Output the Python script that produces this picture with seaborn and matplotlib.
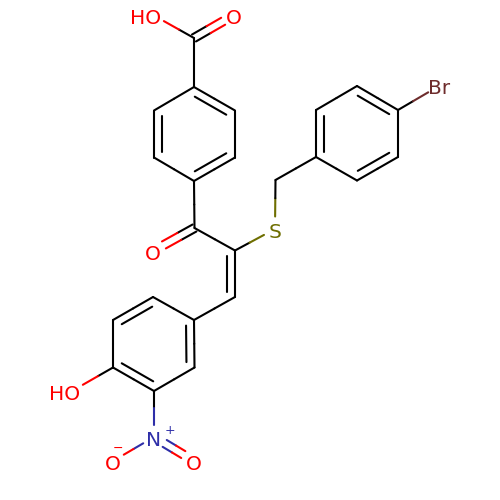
import numpy as np
import pandas as pd
import matplotlib
matplotlib.use("Agg")
import matplotlib.pyplot as plt
import seaborn as sns

# atoms: name, x, y (pixel scale of the drawing)
atom_names = ["C1","O1","O2","A1","A2","A3","A4","A5","A6","K","OK","Ca","S","CH2",
              "C1r","C2r","C3r","C4r","C5r","C6r","Br","Cb",
              "B1","B2","B3","B4","B5","B6","OH","N","Om","On"]
atom_x = [194,234,153,194,235,235,194,154,154,194.5,153,235,275,275.5,
          316,316,357,398,398,357,439,235,
          194,153,113,113,154,194.5,72,154,113,194]
atom_y = [38,15,15,87,110.5,157.5,181,157.5,110.5,228,251,250.5,229,180,
          157,110,86,110,157,180.5,86,297,
          320,297,320,367.5,391,367.5,391,437,461,461]
atom_colors = {"O1":"#FF0000","O2":"#FF0000","OK":"#FF0000","OH":"#FF0000","Om":"#FF0000","On":"#FF0000",
               "S":"#6E6E00","Br":"#6E2C2C","N":"#2E2EA8"}
bond_a = ["C1","C1","C1","A1","A2","A3","A4","A5","A6","A4","K","K","Ca","S","CH2",
          "C1r","C2r","C3r","C4r","C5r","C6r","C4r","Ca","Cb",
          "B1","B2","B3","B4","B5","B6","B4","B5","N","N"]
bond_b = ["O1","O2","A1","A2","A3","A4","A5","A6","A1","K","OK","Ca","S","CH2","C1r",
          "C2r","C3r","C4r","C5r","C6r","C1r","Br","Cb","B1",
          "B2","B3","B4","B5","B6","B1","OH","N","Om","On"]
bond_order = [2,1,1,2,1,2,1,2,1,1,2,1,1,1,1,
              2,1,2,1,2,1,1,2,1,
              1,2,1,2,1,2,1,1,1,2]
# atom lying on the inner side of a double bond (None: centred pair)
bond_ref = [None,None,None,"A5",None,"A1",None,"A2",None,None,None,None,None,None,None,
            "C4r",None,"C6r",None,"C2r",None,None,"K",None,
            None,"B5",None,"B1",None,"B3",None,None,None,None]

label_text = {"O1":"O","O2":"HO","OK":"O","S":"S","Br":"Br","OH":"HO","N":"N","Om":"O","On":"O"}
charge_text = ["\u2212", "+"]
charge_x = [118, 169.5]
charge_y = [447, 429]
charge_color = ["#FF0000", "#2E2EA8"]

pos = {n: np.array([x, y], float) for n, x, y in zip(atom_names, atom_x, atom_y)}
BLACK = "#000000"
GAP = 12.5
OFF = 8.0
SHRINK = 5.5

sns.set_theme(style="white")
plt.rcParams["font.family"] = ["DejaVu Sans"]
fig = plt.figure(figsize=(5, 5), dpi=100, facecolor="white")
ax = fig.add_axes([0, 0, 1, 1])


def seg(p, q, color):
    df = pd.DataFrame({"x": [p[0], q[0]], "y": [p[1], q[1]]})
    sns.lineplot(data=df, x="x", y="y", color=color, linewidth=1.5, sort=False,
                 estimator=None, ax=ax, legend=False, solid_capstyle="round")


def bond(a, b, p, q):
    """Draw p-q clipped at labelled ends, colour changing at the visible midpoint."""
    u = (q - p) / np.linalg.norm(q - p)
    if a in label_text:
        p = p + u * GAP
    if b in label_text:
        q = q - u * GAP
    m = (p + q) / 2
    seg(p, m, atom_colors.get(a, BLACK))
    seg(m, q, atom_colors.get(b, BLACK))


for a, b, order, ref in zip(bond_a, bond_b, bond_order, bond_ref):
    p, q = pos[a], pos[b]
    if order == 1:
        bond(a, b, p, q)
        continue
    u = (q - p) / np.linalg.norm(q - p)
    n = np.array([-u[1], u[0]])
    if ref is None:
        bond(a, b, p + n * OFF / 2, q + n * OFF / 2)
        bond(a, b, p - n * OFF / 2, q - n * OFF / 2)
    else:
        bond(a, b, p, q)
        if np.dot(pos[ref] - p, n) < 0:
            n = -n
        seg(p + n * OFF + u * SHRINK, q + n * OFF - u * SHRINK, BLACK)

for name, text in label_text.items():
    x, y = pos[name]
    ha = "center"
    if text == "HO":
        x, ha = x + 8, "right"
    ax.text(x, y + 1, text, color=atom_colors[name], fontsize=14.5, ha=ha, va="center_baseline")

for t, x, y, c in zip(charge_text, charge_x, charge_y, charge_color):
    ax.text(x, y, t, color=c, fontsize=9, ha="center", va="center_baseline")

ax.set_xlim(0, 500)
ax.set_ylim(500, 0)
ax.set_axis_off()
fig.savefig("out.png", dpi=100, facecolor="white")
